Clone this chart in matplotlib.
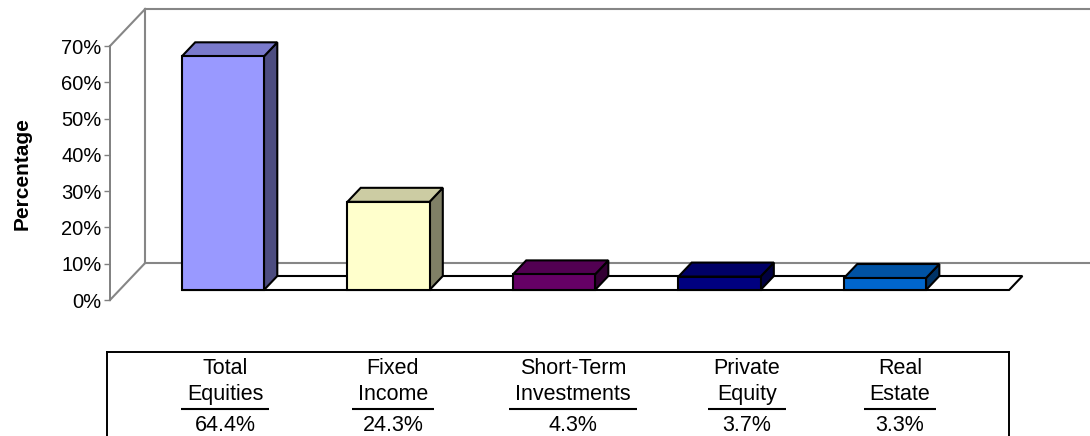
import numpy as np
import matplotlib.pyplot as plt
from matplotlib.patches import Polygon
from matplotlib.lines import Line2D
from matplotlib.colors import to_rgb
from matplotlib.transforms import IdentityTransform

plt.rcParams['font.family'] = ['Liberation Sans', 'DejaVu Sans']

categories = ["Total\nEquities", "Fixed\nIncome", "Short-Term\nInvestments",
              "Private\nEquity", "Real\nEstate"]
values = [64.4, 24.3, 4.3, 3.7, 3.3]
value_labels = ["64.4%", "24.3%", "4.3%", "3.7%", "3.3%"]
yticks = [0, 10, 20, 30, 40, 50, 60, 70]
colors = ["#9999FF", "#FFFFCC", "#660066", "#000080", "#0066CC"]

W, H = 1090, 436
fig = plt.figure(figsize=(W / 100, H / 100), dpi=100)


def box(l, t, r, b):
    # pixel box (from top-left) -> figure fraction rect
    return [l / W, 1 - b / H, (r - l) / W, (b - t) / H]


ax = fig.add_axes(box(110, 46, 1090, 300))
ax.set_xlim(-0.625, 5.296)
ax.set_ylim(0, 70)
ax.patch.set_visible(False)
for s in ["top", "right", "bottom"]:
    ax.spines[s].set_visible(False)
ax.spines["left"].set_color("#808080")
ax.spines["left"].set_linewidth(1.4)
ax.set_xticks([])
ax.set_yticks(yticks)
ax.set_yticklabels([f"{t}%" for t in yticks])
ax.tick_params(axis="y", length=4, width=1, color="#808080", labelsize=14.5, pad=2)

# depth offsets in pixels (x shift = 0.95 * d, y shift = d)
d_front, d_back, d_wall = 10, 24, 37
w = 0.248
x0, x1 = ax.get_xlim()


def p3(x, y, d):
    px, py = ax.transData.transform((x, y))
    return (px + 0.95 * d, py + d)


def line(a, b, **kw):
    ax.add_line(Line2D([a[0], b[0]], [a[1], b[1]], transform=IdentityTransform(),
                       clip_on=False, **kw))


def poly(pts, fc, z=3):
    ax.add_patch(Polygon(pts, closed=True, facecolor=fc, edgecolor="black",
                         linewidth=1.5, joinstyle="miter", transform=IdentityTransform(),
                         clip_on=False, zorder=z))


grey = dict(color="#868686", lw=1.5, zorder=1)
line(p3(x0, 0, 0), p3(x0, 0, d_wall), **grey)
line(p3(x0, 70, 0), p3(x0, 70, d_wall), **grey)
line(p3(x0, 0, d_wall), p3(x0, 70, d_wall), **grey)
line(p3(x0, 70, d_wall), p3(x1, 70, d_wall), **grey)
line(p3(x0, 0, d_wall), p3(x1, 0, d_wall), **grey)

# floor strip
n = len(values)
poly([p3(-w, 0, d_front), p3(n - 0.25, 0, d_front),
      p3(n - 0.25, 0, d_back), p3(-w, 0, d_back)], "white", z=2)

for i, (v, c) in enumerate(zip(values, colors)):
    rgb = np.array(to_rgb(c))
    xl, xr = i - w, i + w
    poly([p3(xr, 0, d_front), p3(xr, 0, d_back), p3(xr, v, d_back), p3(xr, v, d_front)],
         rgb * 0.5)
    poly([p3(xl, v, d_front), p3(xr, v, d_front), p3(xr, v, d_back), p3(xl, v, d_back)],
         rgb * 0.8)
    poly([p3(xl, 0, d_front), p3(xr, 0, d_front), p3(xr, v, d_front), p3(xl, v, d_front)],
         rgb)

fig.text(22 / W, 1 - 174 / H, "Percentage", rotation=90, fontsize=15,
         fontweight="bold", ha="center", va="center")

# table below the chart
tax = fig.add_axes(box(107, 352, 1009, 446))
tax.set_xlim(107, 1009)
tax.set_ylim(446, 352)
tax.set_xticks([])
tax.set_yticks([])
for s in tax.spines.values():
    s.set_linewidth(1.4)
    s.set_color("black")

col_x = [225, 393, 573, 747, 900]
fig.canvas.draw()
r = fig.canvas.get_renderer()
for cx, name, lab in zip(col_x, categories, value_labels):
    top, bottom = name.split("\n")
    t1 = tax.text(cx, 368, top, ha="center", va="center", fontsize=15.5)
    t2 = tax.text(cx, 394, bottom, ha="center", va="center", fontsize=15.5)
    tax.text(cx, 425, lab, ha="center", va="center", fontsize=15.5)
    tw = max(t1.get_window_extent(r).width, t2.get_window_extent(r).width)
    half = tw / 2 + 6
    tax.plot([cx - half, cx + half], [409, 409], color="black", lw=1.5,
             solid_capstyle="butt")

fig.savefig("out.png", dpi=100)
